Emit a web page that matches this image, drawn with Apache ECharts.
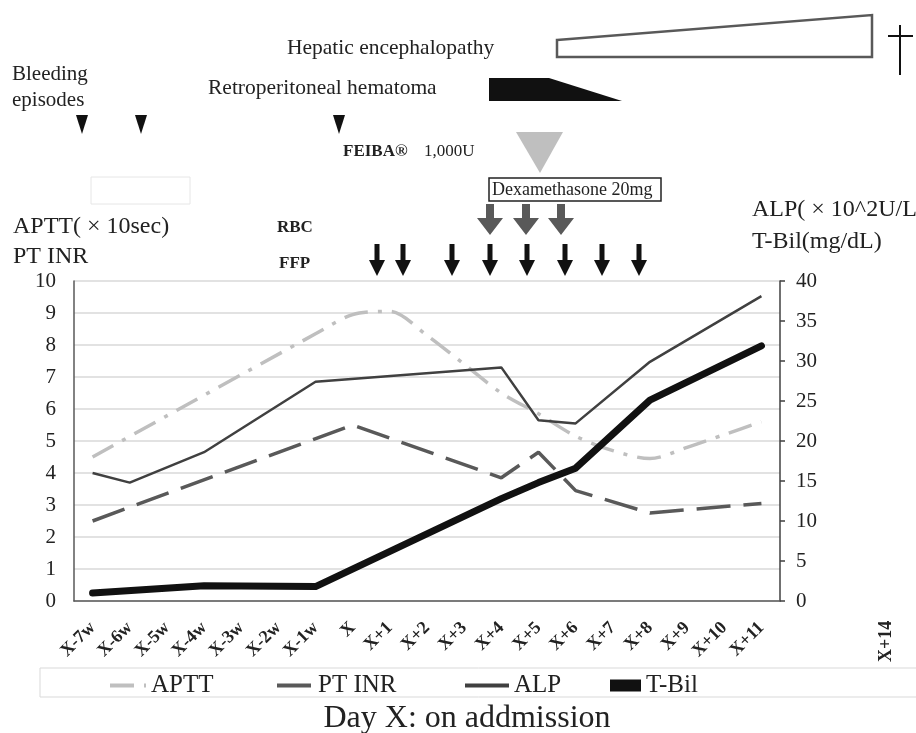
<!DOCTYPE html>
<html>
<head>
<meta charset="utf-8">
<script src="https://cdn.jsdelivr.net/npm/echarts@6/dist/echarts.min.js"></script>
<style>
html, body { margin: 0; padding: 0; background: #fff; }
#chart { width: 916px; height: 733px; }
</style>
</head>
<body>
<div id="chart"></div>
<script>
// 横轴
const days = ['X-7w', 'X-6w', 'X-5w', 'X-4w', 'X-3w', 'X-2w', 'X-1w', 'X',
  'X+1', 'X+2', 'X+3', 'X+4', 'X+5', 'X+6', 'X+7', 'X+8', 'X+9', 'X+10', 'X+11'];
// 左轴: APTT(x10sec), PT INR
const aptt = [4.5, null, null, null, null, null, 8.35, 8.95, 9.05, 8.3, 7.4, 6.5, 5.85, 5.15, 4.7, 4.45, 4.8, 5.2, 5.6];
const ptInr = [2.5, null, null, null, null, null, null, 5.5, null, null, null, 3.85, 4.65, 3.45, null, 2.75, null, null, 3.05];
// 右轴: ALP(x10^2U/L), T-Bil(mg/dL)
const alp = [16, 14.8, null, 18.6, null, null, 27.4, null, null, null, null, 29.2, 22.6, 22.2, null, 29.9, null, null, 38.1];
const tBil = [1.0, null, null, 1.9, null, null, 1.8, null, null, null, null, 12.8, 14.8, 16.6, null, 25.1, null, null, 31.9];
// 刻度
const leftTicks = { min: 0, max: 10, interval: 1 };
const rightTicks = { min: 0, max: 40, interval: 5 };

const serif = 'Liberation Serif';

// 箭头
function arrow(cx, top, bottom, shaft, head, headTop, color) {
  return {
    type: 'polygon',
    shape: { points: [[cx - shaft, top], [cx + shaft, top], [cx + shaft, headTop], [cx + head, headTop],
      [cx, bottom], [cx - head, headTop], [cx - shaft, headTop]] },
    style: { fill: color }
  };
}
function tri(cx) {
  return { type: 'polygon', shape: { points: [[cx - 6, 115], [cx + 6, 115], [cx, 134]] }, style: { fill: '#111' } };
}
function txt(x, y, text, size, opt) {
  return Object.assign({
    type: 'text', x: x, y: y,
    style: { text: text, font: (opt && opt.bold ? 'bold ' : '') + size + 'px "' + serif + '"', fill: '#222', verticalAlign: 'middle' }
  }, opt && opt.extra);
}

const graphics = [
  txt(287, 48, 'Hepatic encephalopathy', 21.5),
  { type: 'polygon', shape: { points: [[557, 40], [872, 15], [872, 57], [557, 57]] }, style: { fill: '#fff', stroke: '#595959', lineWidth: 2.5 } },
  // 死亡
  { type: 'line', shape: { x1: 900, y1: 25, x2: 900, y2: 75 }, style: { stroke: '#111', lineWidth: 2 } },
  { type: 'line', shape: { x1: 888, y1: 36, x2: 913, y2: 36 }, style: { stroke: '#111', lineWidth: 2 } },
  txt(12, 74, 'Bleeding', 21),
  txt(12, 100, 'episodes', 21),
  txt(208, 88, 'Retroperitoneal hematoma', 21.5),
  { type: 'polygon', shape: { points: [[489, 78], [549, 78], [622, 101], [489, 101]] }, style: { fill: '#111' } },
  tri(82), tri(141), tri(339),
  txt(343, 152, 'FEIBA®', 17, { bold: true }),
  txt(424, 152, '1,000U', 17),
  { type: 'polygon', shape: { points: [[516, 132], [563, 132], [540, 173]] }, style: { fill: '#bfbfbf' } },
  { type: 'rect', shape: { x: 91, y: 177, width: 99, height: 27 }, style: { fill: 'none', stroke: '#e6e6e6', lineWidth: 1 } },
  { type: 'rect', shape: { x: 489, y: 178, width: 172, height: 23 }, style: { fill: '#fff', stroke: '#222', lineWidth: 1.5 } },
  txt(492, 190, 'Dexamethasone 20mg', 18),
  txt(13, 227, 'APTT( × 10sec)', 24),
  txt(13, 257, 'PT INR', 24),
  txt(752, 210, 'ALP( × 10^2U/L)', 24),
  txt(752, 242, 'T-Bil(mg/dL)', 24),
  txt(277, 228, 'RBC', 17, { bold: true }),
  txt(279, 264, 'FFP', 17, { bold: true }),
  txt(886, 662, 'X+14', 18, { bold: true, extra: { rotation: Math.PI / 2 } }),
  { type: 'rect', shape: { x: 40, y: 668, width: 890, height: 29 }, style: { fill: 'none', stroke: '#d9d9d9', lineWidth: 1 } },
  { type: 'text', x: 467, y: 719, style: { text: 'Day X: on addmission', font: '32px "' + serif + '"', fill: '#222', align: 'center', verticalAlign: 'middle' } }
];
[490, 526, 561].forEach(function (cx) { graphics.push(arrow(cx, 204, 235, 4, 13, 218, '#595959')); });
[377, 403, 452, 490, 527, 565, 602, 639].forEach(function (cx) { graphics.push(arrow(cx, 244, 276, 2.5, 8, 260, '#111')); });

function legendAt(left, name, w, iw) {
  return {
    data: [name], left: left, top: 673, orient: 'horizontal', padding: 0,
    itemWidth: iw, itemHeight: 12, itemGap: 0,
    textStyle: { fontFamily: serif, fontSize: 25, color: '#222' },
    itemStyle: { opacity: 0 },
    lineStyle: { width: w, cap: 'butt' }
  };
}

const chart = echarts.init(document.getElementById('chart'));
chart.setOption({
  animation: false,
  backgroundColor: '#fff',
  grid: { left: 74, right: 136, top: 281, bottom: 132 },
  legend: [legendAt(108, 'APTT', 4, 36), legendAt(275, 'PT INR', 4, 36), legendAt(463, 'ALP', 4, 44), legendAt(604, 'T-Bil', 12, 31)],
  xAxis: {
    type: 'category', data: days, boundaryGap: true,
    axisLine: { lineStyle: { color: '#595959', width: 1.5 } },
    axisTick: { show: false },
    axisLabel: { interval: 0, rotate: 45, margin: 24, fontFamily: serif, fontWeight: 'bold', fontSize: 18, color: '#222' }
  },
  yAxis: [
    {
      type: 'value', min: leftTicks.min, max: leftTicks.max, interval: leftTicks.interval, position: 'left',
      axisLine: { show: true, lineStyle: { color: '#595959', width: 1.5 } },
      axisTick: { show: false },
      splitLine: { lineStyle: { color: '#d9d9d9', width: 1.5 } },
      axisLabel: { margin: 18, fontFamily: serif, fontSize: 21, color: '#222' }
    },
    {
      type: 'value', min: rightTicks.min, max: rightTicks.max, interval: rightTicks.interval, position: 'right',
      axisLine: { show: true, lineStyle: { color: '#404040', width: 1.5 } },
      axisTick: { show: true, length: 5, lineStyle: { color: '#404040', width: 1.5 } },
      splitLine: { show: false },
      axisLabel: { margin: 16, fontFamily: serif, fontSize: 21, color: '#222' }
    }
  ],
  series: [
    {
      name: 'APTT', type: 'line', yAxisIndex: 0, data: aptt, connectNulls: true, smooth: 0.3,
      symbol: 'none', itemStyle: { color: '#bfbfbf' },
      lineStyle: { color: '#bfbfbf', width: 3.5, type: [24, 10, 4, 10] }
    },
    {
      name: 'PT INR', type: 'line', yAxisIndex: 0, data: ptInr, connectNulls: true,
      symbol: 'none', itemStyle: { color: '#595959' },
      lineStyle: { color: '#595959', width: 3.5, type: [34, 13] }
    },
    {
      name: 'ALP', type: 'line', yAxisIndex: 1, data: alp, connectNulls: true,
      symbol: 'none', itemStyle: { color: '#404040' },
      lineStyle: { color: '#404040', width: 2.5 }
    },
    {
      name: 'T-Bil', type: 'line', yAxisIndex: 1, data: tBil, connectNulls: true,
      symbol: 'none', itemStyle: { color: '#111' },
      lineStyle: { color: '#111', width: 7, cap: 'round', join: 'round' }
    }
  ],
  graphic: graphics
});
</script>
</body>
</html>
